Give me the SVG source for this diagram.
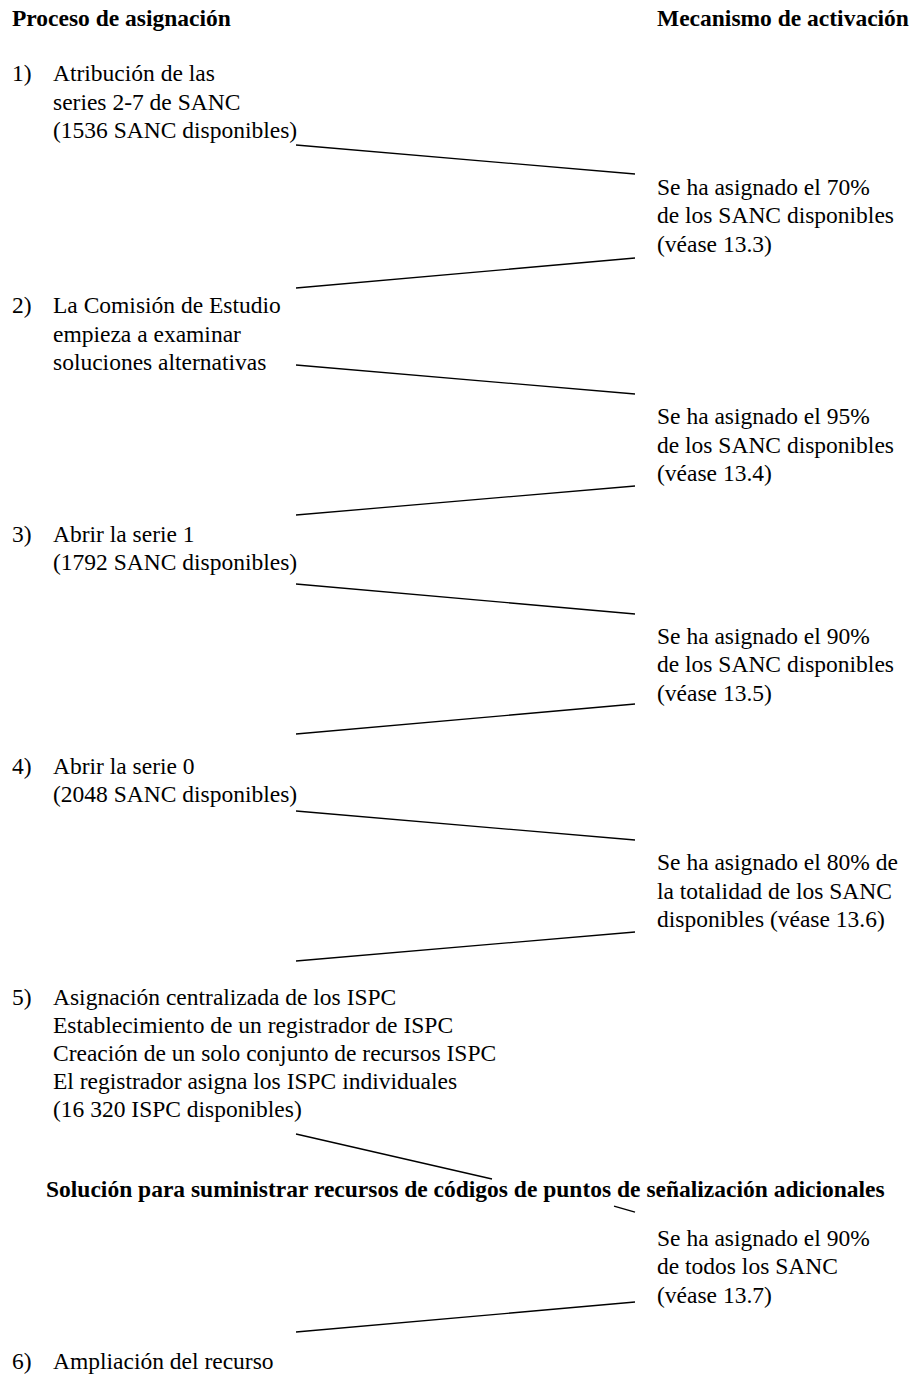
<svg xmlns="http://www.w3.org/2000/svg" width="916" height="1376" viewBox="0 0 916 1376">
<style>
text{font-family:"Liberation Serif","Times New Roman",serif;font-size:23.5px;fill:#000}
.b{font-weight:bold}
.c line{stroke:#000;stroke-width:1.3}
</style>
<rect width="916" height="1376" fill="#fff"/>
<g id="headers">
<text class="b" x="12" y="26">Proceso de asignación</text>
<text class="b" x="657" y="26">Mecanismo de activación</text>
</g>
<g id="step1">
<text x="12" y="81">1)</text>
<text x="53" y="81">Atribución de las</text>
<text x="53" y="110">series 2-7 de SANC</text>
<text x="53" y="138">(1536 SANC disponibles)</text>
</g>
<g id="trigger1">
<text x="657" y="195">Se ha asignado el 70%</text>
<text x="657" y="223">de los SANC disponibles</text>
<text x="657" y="252">(véase 13.3)</text>
</g>
<g id="step2">
<text x="12" y="313">2)</text>
<text x="53" y="313">La Comisión de Estudio</text>
<text x="53" y="342">empieza a examinar</text>
<text x="53" y="370">soluciones alternativas</text>
</g>
<g id="trigger2">
<text x="657" y="424">Se ha asignado el 95%</text>
<text x="657" y="453">de los SANC disponibles</text>
<text x="657" y="481">(véase 13.4)</text>
</g>
<g id="step3">
<text x="12" y="542">3)</text>
<text x="53" y="542">Abrir la serie 1</text>
<text x="53" y="570">(1792 SANC disponibles)</text>
</g>
<g id="trigger3">
<text x="657" y="644">Se ha asignado el 90%</text>
<text x="657" y="672">de los SANC disponibles</text>
<text x="657" y="701">(véase 13.5)</text>
</g>
<g id="step4">
<text x="12" y="774">4)</text>
<text x="53" y="774">Abrir la serie 0</text>
<text x="53" y="802">(2048 SANC disponibles)</text>
</g>
<g id="trigger4">
<text x="657" y="870">Se ha asignado el 80% de</text>
<text x="657" y="899">la totalidad de los SANC</text>
<text x="657" y="927">disponibles (véase 13.6)</text>
</g>
<g id="step5">
<text x="12" y="1005">5)</text>
<text x="53" y="1005">Asignación centralizada de los ISPC</text>
<text x="53" y="1033">Establecimiento de un registrador de ISPC</text>
<text x="53" y="1061">Creación de un solo conjunto de recursos ISPC</text>
<text x="53" y="1089">El registrador asigna los ISPC individuales</text>
<text x="53" y="1117">(16 320 ISPC disponibles)</text>
</g>
<g id="solution">
<text class="b" x="46" y="1197">Solución para suministrar recursos de códigos de puntos de señalización adicionales</text>
</g>
<g id="trigger5">
<text x="657" y="1246">Se ha asignado el 90%</text>
<text x="657" y="1274">de todos los SANC</text>
<text x="657" y="1303">(véase 13.7)</text>
</g>
<g id="step6">
<text x="12" y="1369">6)</text>
<text x="53" y="1369">Ampliación del recurso</text>
</g>
<g id="connectors" class="c">
<line x1="296" y1="145" x2="635" y2="174"/>
<line x1="296" y1="288" x2="635" y2="258"/>
<line x1="296" y1="365" x2="635" y2="394"/>
<line x1="296" y1="515" x2="635" y2="486"/>
<line x1="296" y1="584" x2="635" y2="614"/>
<line x1="296" y1="734" x2="635" y2="704"/>
<line x1="296" y1="811" x2="635" y2="840"/>
<line x1="296" y1="961" x2="635" y2="932"/>
<line x1="296" y1="1134" x2="492" y2="1179"/>
<line x1="614" y1="1206" x2="635" y2="1212"/>
<line x1="296" y1="1332" x2="635" y2="1302"/>
</g>
</svg>
